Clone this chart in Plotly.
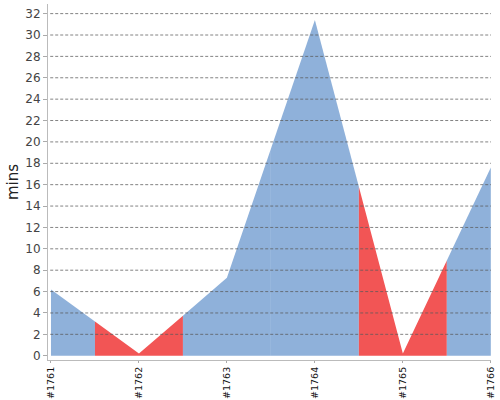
import plotly.graph_objects as go

# Build durations (minutes) per build
builds = ['#1761', '#1762', '#1763', '#1764', '#1765', '#1766']
durations = [6.2, 0.2, 7.3, 31.4, 0.2, 17.6]
results = ['success', 'failure', 'success', 'success', 'failure', 'success']
y_ticks = list(range(0, 33, 2))

colors = {'success': '#8fb1da', 'failure': '#f25555'}

fig = go.Figure()

# Each build owns the area from half-way before it to half-way after it
n = len(builds)
for i in range(n):
    xs = [i]
    ys = [durations[i]]
    if i > 0:
        xs.insert(0, i - 0.5)
        ys.insert(0, (durations[i - 1] + durations[i]) / 2)
    if i < n - 1:
        xs.append(i + 0.5)
        ys.append((durations[i] + durations[i + 1]) / 2)
    fig.add_trace(go.Scatter(
        x=xs, y=ys,
        mode='lines',
        line=dict(width=0),
        fill='tozeroy',
        fillcolor=colors[results[i]],
        hoverinfo='skip',
        showlegend=False,
    ))

# dashed grid lines drawn over the areas
for t in y_ticks[1:]:
    fig.add_shape(type='line', xref='paper', yref='y',
                  x0=0.005, x1=1, y0=t, y1=t,
                  line=dict(color='rgba(90,90,90,0.75)', width=1, dash='3px,2px'),
                  layer='above')

fig.update_layout(
    width=500, height=400,
    margin=dict(l=48, r=9, t=4, b=40, autoexpand=False),
    paper_bgcolor='white',
    plot_bgcolor='white',
    font=dict(family='DejaVu Sans', color='#444'),
    xaxis=dict(
        range=[-0.034, 5.002],
        tickvals=list(range(n)),
        ticktext=builds,
        tickangle=-90,
        tickfont=dict(size=9.5, color='#111'),
        ticks='outside', ticklen=2, tickcolor='#aaa',
        showgrid=False, zeroline=False, automargin=False,
        showline=True, linecolor='#bbb', linewidth=1,
    ),
    yaxis=dict(
        range=[-0.4, 32.9],
        tickvals=y_ticks,
        tickfont=dict(size=12, color='#444'),
        ticks='outside', ticklen=4, tickcolor='#aaa',
        showgrid=False, zeroline=False, automargin=False,
        showline=True, linecolor='#bbb', linewidth=1,
        title=dict(text='mins', font=dict(size=15, color='#222'), standoff=3),
    ),
)

# browser default body margin would push the chart 8px down/right
fig.write_html("out.html", config={'displayModeBar': False},
               post_script="document.body.style.margin = '0px';")
